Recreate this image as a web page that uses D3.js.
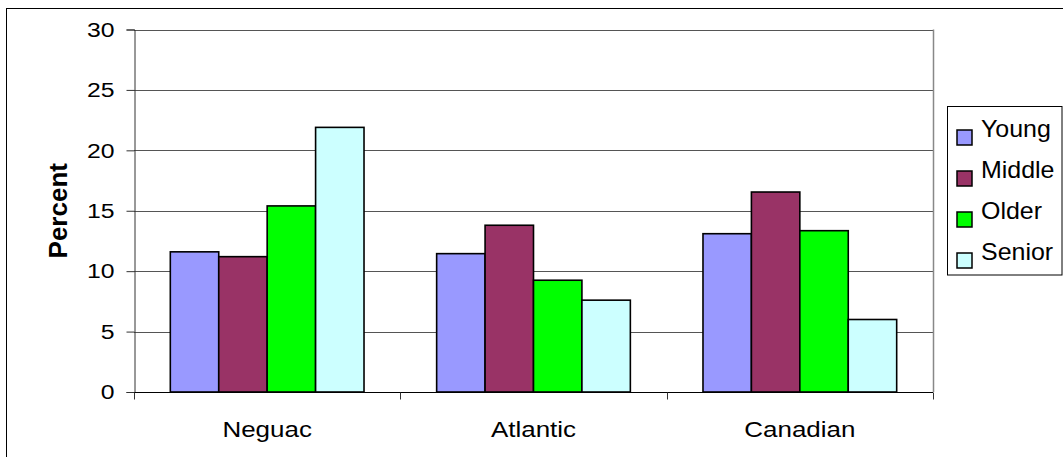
<!DOCTYPE html>
<html><head><meta charset="utf-8">
<script src="https://cdn.jsdelivr.net/npm/d3@7/dist/d3.min.js"></script>
<style>body{margin:0;background:#fff}text{font-family:"Liberation Sans",Arial,sans-serif}</style>
</head><body>
<svg id="c" width="1063" height="457"></svg>
<script>
const categories = ["Neguac", "Atlantic", "Canadian"];
const seriesNames = ["Young", "Middle", "Older", "Senior"];
const young  = [11.6, 11.45, 13.1];
const middle = [11.2, 13.8, 16.55];
const older  = [15.4, 9.25, 13.35];
const senior = [21.9, 7.6, 6.0];
const seriesColors = ["#9999FF", "#993366", "#00FF00", "#CCFFFF"];
const yTicks = [0, 5, 10, 15, 20, 25, 30];

const values = [young, middle, older, senior];
const svg = d3.select("#c");
const L = 134, R = 933, T = 29.5, B = 392;
const SX = 1.18;

svg.append("rect").attr("x", 6.5).attr("y", 8.5).attr("width", 1200).attr("height", 600)
  .attr("fill", "#fff").attr("stroke", "#000").attr("stroke-width", 1);

const x0 = d3.scaleBand().domain(categories).range([L, R]).padding(0);
// Excel gap width 150%: bars occupy 4/(4+1.5) of category
const x1 = d3.scaleBand().domain(seriesNames)
  .range([x0.bandwidth() * 0.75 / 5.5, x0.bandwidth() * (1 - 0.75 / 5.5)]).padding(0);
const y = d3.scaleLinear().domain([0, 30]).range([B, T]);

// gridlines
svg.append("g").selectAll("line").data(yTicks.filter(d => d > 0)).join("line")
  .attr("x1", L).attr("x2", R).attr("y1", d => Math.round(y(d)) + 0.5).attr("y2", d => Math.round(y(d)) + 0.5)
  .attr("stroke", "#555").attr("stroke-width", 1);
// right border
svg.append("line").attr("x1", R + 0.5).attr("x2", R + 0.5).attr("y1", T).attr("y2", B).attr("stroke", "#888").attr("stroke-width", 1.5);

// bars
const groups = svg.append("g").selectAll("g").data(categories).join("g")
  .attr("transform", c => `translate(${x0(c)},0)`);
groups.selectAll("rect").data((c, ci) => seriesNames.map((s, si) => ({ s, si, v: values[si][ci] }))).join("rect")
  .attr("x", d => x1(d.s)).attr("width", x1.bandwidth())
  .attr("y", d => y(d.v)).attr("height", d => B - y(d.v))
  .attr("fill", d => seriesColors[d.si]).attr("stroke", "#000").attr("stroke-width", 1.6);

// y axis
const yAxis = svg.append("g").attr("transform", `translate(${L + 0.5},0)`)
  .call(d3.axisLeft(y).tickValues(yTicks).tickSize(8).tickPadding(10));
yAxis.select(".domain").attr("stroke", "#333");
yAxis.selectAll(".tick line").attr("stroke", "#333");
yAxis.selectAll(".tick text").attr("font-size", 21).attr("fill", "#000")
  .attr("font-family", "'Liberation Sans',Arial,sans-serif")
  .attr("x", null).attr("transform", `translate(-20,0) scale(${SX},1)`);

// x axis
const xAxisG = svg.append("g").attr("transform", `translate(0,${B + 0.5})`);
xAxisG.append("line").attr("x1", L).attr("x2", R).attr("stroke", "#000").attr("stroke-width", 1.2);
const bounds = [L, ...categories.map(c => x0(c) + x0.bandwidth())];
xAxisG.selectAll("line.t").data(bounds).join("line").attr("class", "t")
  .attr("x1", d => Math.round(d) + 0.5).attr("x2", d => Math.round(d) + 0.5).attr("y1", 0).attr("y2", 7)
  .attr("stroke", "#333");
xAxisG.selectAll("text").data(categories).join("text")
  .attr("transform", c => `translate(${x0(c) + x0.bandwidth() / 2},44.5) scale(${SX},1)`)
  .attr("text-anchor", "middle").attr("font-size", 22).text(c => c);

// y title
svg.append("text").attr("transform", `translate(67,${(T + B) / 2}) rotate(-90)`)
  .attr("text-anchor", "middle").attr("font-size", 26).attr("font-weight", "bold").text("Percent");

// legend
const lg = svg.append("g");
lg.append("rect").attr("x", 947.5).attr("y", 106.5).attr("width", 114.5).attr("height", 168.5)
  .attr("fill", "#fff").attr("stroke", "#000").attr("stroke-width", 1);
const items = lg.selectAll("g.it").data(seriesNames).join("g").attr("class", "it")
  .attr("transform", (d, i) => `translate(0,${i * 41})`);
items.append("rect").attr("x", 957).attr("y", 130).attr("width", 15).attr("height", 15)
  .attr("fill", (d, i) => seriesColors[i]).attr("stroke", "#000").attr("stroke-width", 1.5);
items.append("text").attr("transform", "translate(981,137) scale(1.04,1)").attr("font-size", 24).text(d => d);
</script>
</body></html>
